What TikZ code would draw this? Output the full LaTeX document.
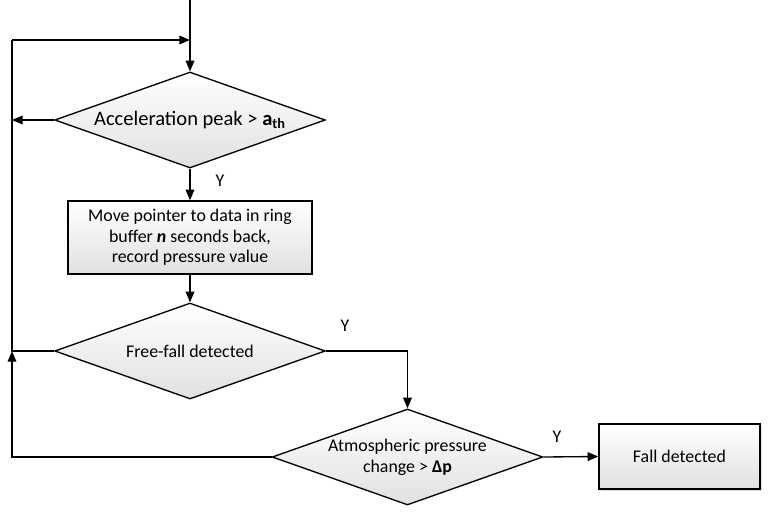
\documentclass[tikz,border=0pt]{standalone}
\usepackage{fontspec}
\setmainfont{Carlito}
\usetikzlibrary{shapes.geometric,arrows.meta,shadows}
\begin{document}
\begin{tikzpicture}[x=0.75pt,y=-0.75pt,
  font=\fontsize{13.4}{15.5}\selectfont,
  line width=1pt,
  arr/.style={-{Triangle[length=8pt,width=6.5pt]}},
  dec/.style={diamond, draw, shape aspect=2.8, inner sep=0pt,
    minimum width=203pt, minimum height=72pt,
    top color=white, bottom color=black!12, align=center},
  proc/.style={rectangle, draw, top color=white, bottom color=black!12, align=center, inner sep=2pt},
  lbl/.style={inner sep=0pt}
]
\useasboundingbox (0,0) rectangle (768,511);
\node[dec, font=\fontsize{15.4}{18}\selectfont] (d1) at (190,120) {Acceleration peak > \textbf{a\textsubscript{th}}};
\node[proc, minimum width=183pt, minimum height=54.75pt] (b1) at (190,237.5)
  {Move pointer to data in ring\\ buffer \textbf{\textit{n}} seconds back,\\ record pressure value};
\node[dec] (d2) at (190,351) {Free-fall detected};
\node[dec] (d3) at (407.5,457) {Atmospheric pressure\\ change > \textbf{Δp}};
\node[proc, minimum width=120.75pt, minimum height=48.75pt,
  drop shadow={shadow xshift=1.2pt, shadow yshift=-1.2pt, opacity=0.25}] (fall) at (679.5,456.5) {Fall detected};

\coordinate (start) at (190,0);
\coordinate (top) at (190,40);
\coordinate (L1) at (12,40);
\coordinate (L3) at (12,351);

\draw[arr] (start) -- (d1.north);
\draw[arr] (d1.west) -- (d1.west -| L1);
\draw[arr] (d1.south) -- (b1.north);
\draw[arr] (b1.south) -- (d2.north);
\draw (d2.west) -- (L3) -- (L1);
\draw[arr] (L1) -- (top);
\draw[arr] (d2.east) -| (d3.north);
\draw[arr] (d3.west) -| (L3);
\draw[arr] (d3.east) -- (fall.west);

\node[lbl] (y1) at (220,181) {Y};
\node[lbl] (y2) at (345,326) {Y};
\node[lbl] (y3) at (557,437) {Y};
\end{tikzpicture}
\end{document}
